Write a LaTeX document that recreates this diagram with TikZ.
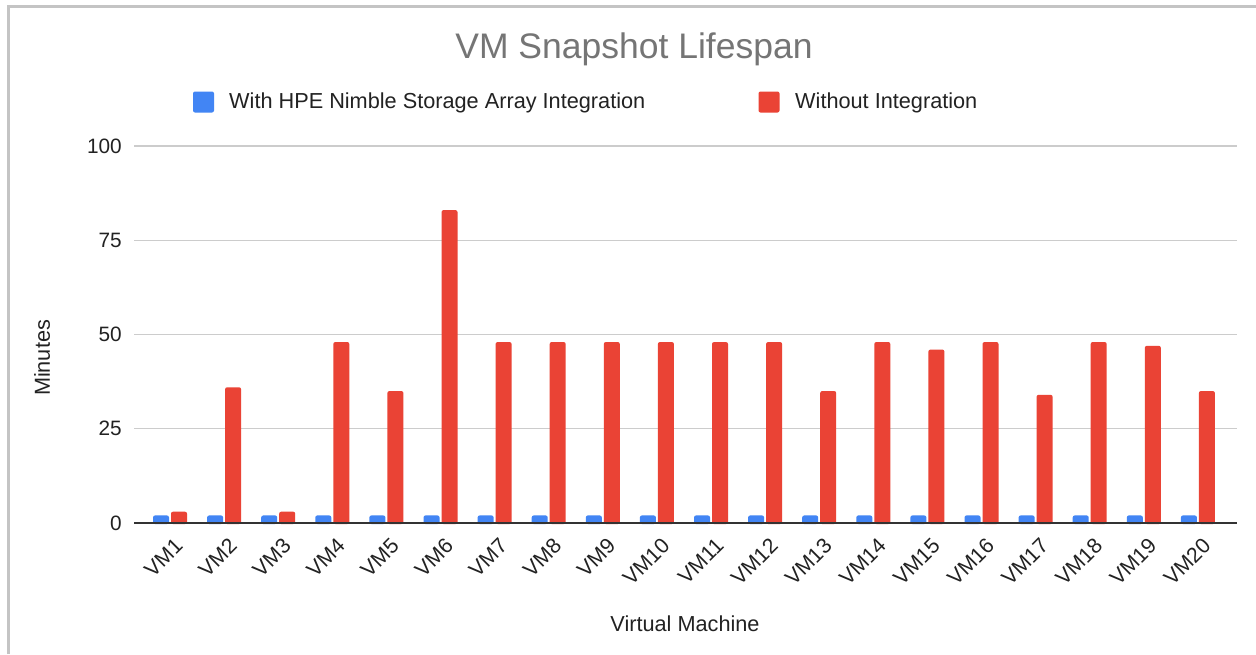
\documentclass[tikz,border=0pt]{standalone}
\usepackage{fontspec}
\setmainfont{Liberation Sans}
\definecolor{barblue}{HTML}{4285F4}
\definecolor{barred}{HTML}{EA4335}
\definecolor{gridgray}{HTML}{CCCCCC}
\definecolor{axisgray}{HTML}{333333}
\definecolor{titlegray}{HTML}{757575}
\definecolor{framegray}{HTML}{C4C4C4}
\definecolor{labelblack}{HTML}{222222}
\begin{document}
\begin{tikzpicture}[x=1pt,y=-1pt,
  txt/.style={inner sep=0pt, text=labelblack, font=\fontsize{21.7}{26}\selectfont},
  ylab/.style={txt, anchor=east, font=\fontsize{20.8}{24}\selectfont},
  xlab/.style={txt, anchor=east, rotate=45, font=\fontsize{21.3}{25}\selectfont},
  legsq/.style={minimum size=21pt, inner sep=0pt, rounded corners=2pt},
  gridline/.style={gridgray, line width=1.3pt},
  axisline/.style={axisgray, line width=2pt},
  bar/.style={rounded corners=2pt}]
\useasboundingbox (0,0) rectangle (1256,654);
\fill[white] (0,0) rectangle (1256,654);
% outer frame
\draw[framegray, line width=2.5pt] (8.5,654) -- (8.5,6.5) -- (1256,6.5);
% title
\node[inner sep=0pt, anchor=base, text=titlegray, font=\fontsize{35.5}{42}\selectfont] (title) at (634,58) {VM Snapshot Lifespan};
% legend
\node[legsq, fill=barblue] (lgblue) at (203.5,102) {};
\node[txt, anchor=base west] (lgbluetxt) at (229,108) {With HPE Nimble Storage Array Integration};
\node[legsq, fill=barred] (lgred) at (769,102) {};
\node[txt, anchor=base west] (lgredtxt) at (795,108) {Without Integration};
% gridlines and value axis labels
\foreach \v in {25,50,75,100}{
  \draw[gridline] (134,523-3.77*\v) -- (1237,523-3.77*\v);
}
\foreach \v in {0,25,50,75,100}{
  \node[ylab] (yt\v) at (122,523-3.77*\v) {\v};
}
% bars
\pgfmathsetmacro\bluetop{523-3.77*2}
\foreach \r [count=\i] in {3,36,3,48,35,83,48,48,48,48,48,48,35,48,46,48,34,48,47,35}{
  \pgfmathsetmacro\c{170+54.1*(\i-1)}
  \pgfmathsetmacro\rtop{523-3.77*\r}
  \fill[bar, barblue] (\c-17,524) rectangle (\c-1,\bluetop);
  \fill[bar, barred] (\c+1,524) rectangle (\c+17,\rtop);
  \node[xlab] (vm\i) at (\c+9,542) {VM\i};
}
% baseline
\draw[axisline] (134,523) -- (1237,523);
% axis titles
\node[txt, rotate=90] (ytitle) at (42,358) {Minutes};
\node[txt] (xtitle) at (685,624) {Virtual Machine};
\end{tikzpicture}
\end{document}
